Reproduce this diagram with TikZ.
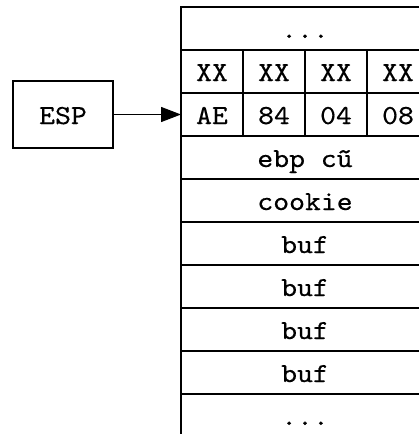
\documentclass[tikz,border=0pt]{standalone}
\usepackage{fontspec}
\setmonofont{lmmono10-regular}[Extension=.otf, FakeStretch=1.1, FakeBold=0.4]
\usetikzlibrary{arrows.meta}
\tikzset{
  cell/.style={draw, line width=1.4pt, inner sep=0pt, outer sep=0pt, minimum height=43pt,
    text height=19pt, text depth=0pt, font=\ttfamily\fontsize{27.5}{27.5}\selectfont},
  wide/.style={cell, minimum width=248pt},
  byte/.style={cell, minimum width=62pt}
}
\begin{document}
\begin{tikzpicture}[x=1pt,y=1pt]
\useasboundingbox (0,0) rectangle (419,-434);
\clip (0,0) rectangle (419,-434);
\node[wide] (top) at (305,-28.5) {...};
\node[byte] (x1) at (212,-71.5) {XX};
\node[byte] (x2) at (274,-71.5) {XX};
\node[byte] (x3) at (336,-71.5) {XX};
\node[byte] (x4) at (398,-71.5) {XX};
\node[byte] (a1) at (212,-114.5) {AE};
\node[byte] (a2) at (274,-114.5) {84};
\node[byte] (a3) at (336,-114.5) {04};
\node[byte] (a4) at (398,-114.5) {08};
\node[wide] (ebp) at (305,-157.5) {ebp cũ};
\node[wide] (cookie) at (305,-200.5) {cookie};
\foreach \i/\y in {1/-243.5, 2/-286.5, 3/-329.5, 4/-372.5}
  \node[wide] (buf\i) at (305,\y) {buf};
\node[wide] (bottom) at (305,-415.5) {...};
\node[cell, minimum width=100pt, minimum height=67pt] (esp) at (63,-114.5) {ESP};
\draw[line width=1.4pt, -{Triangle[length=20pt,width=15pt]}] (esp) -- (a1);
\end{tikzpicture}
\end{document}
